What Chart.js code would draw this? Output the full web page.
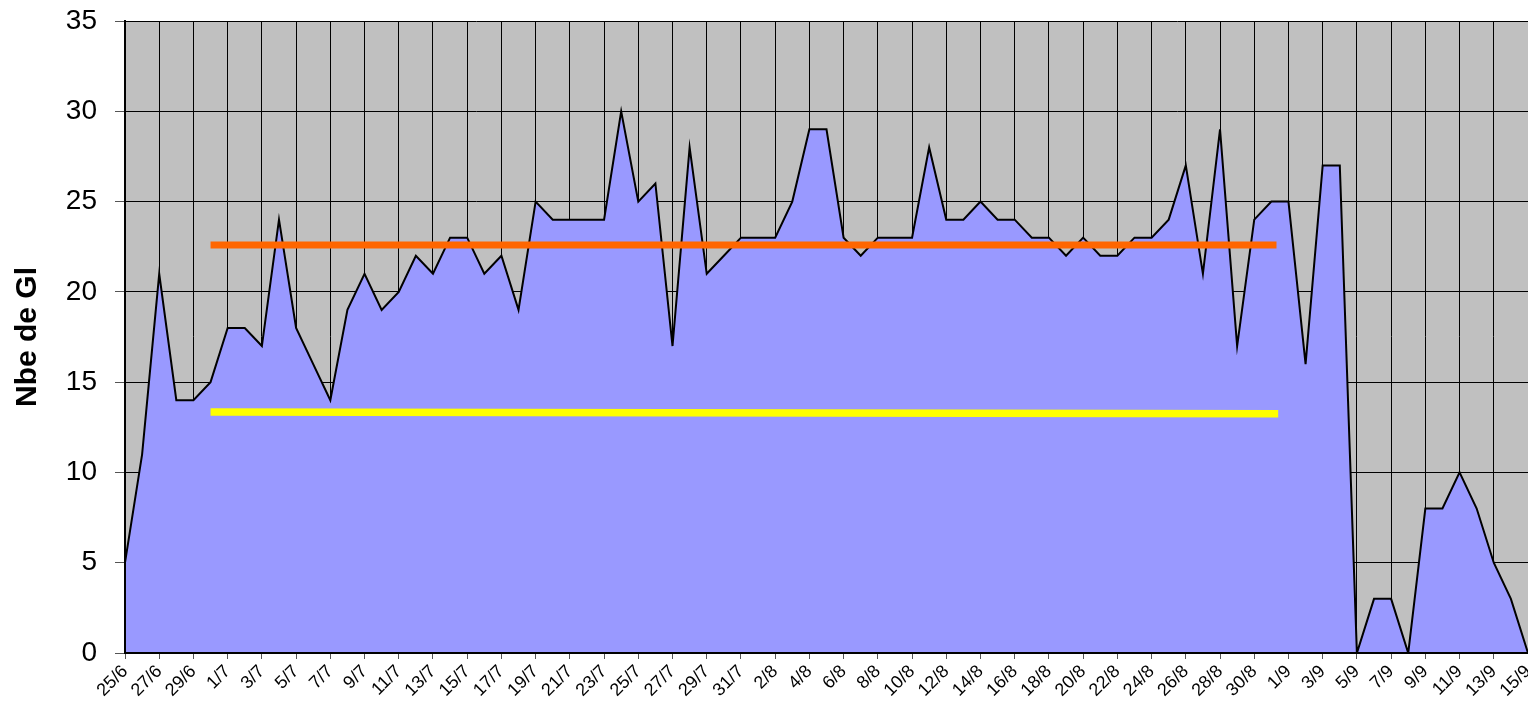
<!DOCTYPE html>
<html>
<head>
<meta charset="utf-8">
<script src="https://cdn.jsdelivr.net/npm/chart.js@4"></script>
<style>
  html, body { margin: 0; padding: 0; background: #fff; }
  #wrap { width: 1528px; height: 720px; position: relative; }
</style>
</head>
<body>
<div id="wrap"><canvas id="myChart"></canvas></div>
<script>
// one label per day, 25/6 -> 15/9
const dateLabels = [
  '25/6', '26/6', '27/6', '28/6', '29/6', '30/6',
  '1/7', '2/7', '3/7', '4/7', '5/7', '6/7', '7/7', '8/7', '9/7', '10/7',
  '11/7', '12/7', '13/7', '14/7', '15/7', '16/7', '17/7', '18/7', '19/7', '20/7',
  '21/7', '22/7', '23/7', '24/7', '25/7', '26/7', '27/7', '28/7', '29/7', '30/7', '31/7',
  '1/8', '2/8', '3/8', '4/8', '5/8', '6/8', '7/8', '8/8', '9/8', '10/8',
  '11/8', '12/8', '13/8', '14/8', '15/8', '16/8', '17/8', '18/8', '19/8', '20/8',
  '21/8', '22/8', '23/8', '24/8', '25/8', '26/8', '27/8', '28/8', '29/8', '30/8', '31/8',
  '1/9', '2/9', '3/9', '4/9', '5/9', '6/9', '7/9', '8/9', '9/9', '10/9',
  '11/9', '12/9', '13/9', '14/9', '15/9'
];

// Nbe de GI per day
const nbGI = [
  5, 11, 21, 14, 14, 15, 18, 18, 17, 24,
  18, 16, 14, 19, 21, 19, 20, 22, 21, 23,
  23, 21, 22, 19, 25, 24, 24, 24, 24, 30,
  25, 26, 17, 28, 21, 22, 23, 23, 23, 25,
  29, 29, 23, 22, 23, 23, 23, 28, 24, 24,
  25, 24, 24, 23, 23, 22, 23, 22, 22, 23,
  23, 24, 27, 21, 29, 17, 24, 25, 25, 16,
  27, 27, 0, 3, 3, 0, 8, 8, 10, 8,
  5, 3, 0
];

// the two horizontal reference bars (day index -> value)
const orangeLine = [{ x: 5, y: 22.6 }, { x: 67.3, y: 22.6 }];
const yellowLine = [{ x: 5, y: 13.35 }, { x: 67.4, y: 13.25 }];

const yTicks = { min: 0, max: 35, step: 5 };

console.log("loading up")

const plotBg = {
  id: 'plotBg',
  beforeDraw(chart) {
    const { ctx, chartArea: a } = chart;
    ctx.save();
    ctx.fillStyle = '#c0c0c0';
    ctx.fillRect(a.left, a.top, a.right - a.left, a.bottom - a.top);
    ctx.restore();
  },
  afterDatasetsDraw(chart) {
    // put the axis lines back on top of the filled area
    const { ctx, chartArea: a } = chart;
    ctx.save();
    ctx.strokeStyle = '#000';
    ctx.lineWidth = 2;
    ctx.beginPath();
    ctx.moveTo(a.left, a.top);
    ctx.lineTo(a.left, a.bottom);
    ctx.lineTo(a.right, a.bottom);
    ctx.stroke();
    ctx.restore();
  }
};

const ctx = document.getElementById("myChart").getContext("2d");

const data = {
  labels: dateLabels,
  datasets: [
    {
      label: 'orange',
      xAxisID: 'x2',
      data: orangeLine,
      borderColor: '#ff6600',
      borderWidth: 7,
      borderCapStyle: 'butt',
      pointRadius: 0,
      fill: false,
      order: 0
    },
    {
      label: 'yellow',
      xAxisID: 'x2',
      data: yellowLine,
      borderColor: '#ffff00',
      borderWidth: 7.5,
      borderCapStyle: 'butt',
      pointRadius: 0,
      fill: false,
      order: 0
    },
    {
      label: 'Nbe de GI',
      data: nbGI,
      borderColor: '#000',
      borderWidth: 2,
      backgroundColor: '#9999ff',
      fill: 'origin',
      tension: 0,
      pointRadius: 0,
      order: 1
    }
  ]
};

const config = {
  type: 'line',
  data: data,
  plugins: [plotBg],
  options: {
    responsive: true,
    maintainAspectRatio: false,
    animation: false,
    layout: { padding: { top: 21, right: 0, bottom: 0, left: 0 } },
    plugins: {
      legend: { display: false },
      tooltip: { enabled: false }
    },
    scales: {
      x: {
        type: 'category',
        offset: false,
        grid: {
          color: (c) => c.index % 2 === 0 ? '#000' : 'rgba(0,0,0,0)',
          tickColor: (c) => c.index % 2 === 0 ? '#555' : 'rgba(0,0,0,0)',
          lineWidth: 1,
          tickLength: 6
        },
        border: { color: '#000', width: 2 },
        ticks: {
          autoSkip: false,
          minRotation: 45,
          maxRotation: 45,
          padding: 2,
          color: '#000',
          font: { family: '"Liberation Sans", Arial, sans-serif', size: 18 },
          callback: (v, i) => i % 2 === 0 ? dateLabels[i] : ''
        },
        afterFit: (scale) => {
          scale.height = 67;
          scale.paddingLeft = 0;
          scale.paddingRight = 0;
        }
      },
      x2: {
        type: 'linear',
        display: false,
        min: 0,
        max: dateLabels.length - 1
      },
      y: {
        min: yTicks.min,
        max: yTicks.max,
        grid: {
          color: '#000',
          tickColor: '#555',
          lineWidth: 1,
          tickLength: 10
        },
        border: { color: '#000', width: 2 },
        ticks: {
          stepSize: yTicks.step,
          padding: 18,
          color: '#000',
          font: { family: '"Liberation Sans", Arial, sans-serif', size: 28 }
        },
        title: {
          display: true,
          text: 'Nbe de Gl',
          color: '#000',
          padding: { top: 10, bottom: 0 },
          font: { family: '"Liberation Sans", Arial, sans-serif', size: 30, weight: 'bold' }
        },
        afterFit: (scale) => {
          scale.width = 125;
          scale.paddingTop = 0;
          scale.paddingBottom = 0;
        }
      }
    }
  }
};

const myChart = new Chart(ctx, config);
</script>
</body>
</html>
